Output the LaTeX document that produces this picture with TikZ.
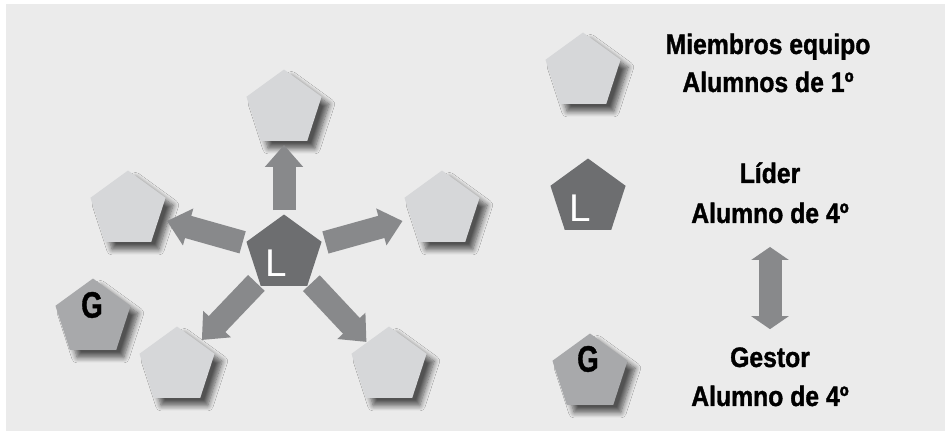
\documentclass[tikz,border=0pt]{standalone}
\usepackage{fontspec}
\setmainfont{Liberation Sans}
\newfontfamily\narrowfont[FakeStretch=0.75, BoldFeatures={FakeBold=1}]{Liberation Sans}
\newfontfamily\labelfont[FakeStretch=0.88, BoldFeatures={FakeBold=1.2}]{Liberation Sans}
\usepackage{tikz}
\usetikzlibrary{calc,shapes.geometric,arrows.meta,shadows.blur}
\definecolor{panel}{HTML}{EBEBEB}
\definecolor{member}{HTML}{D6D7D9}
\definecolor{leader}{HTML}{6D6E70}
\definecolor{manager}{HTML}{A8A9AB}
\definecolor{flow}{HTML}{88898B}
\tikzset{
  penta/.style={regular polygon, regular polygon sides=5, minimum size=1.58cm, inner sep=0pt},
  soft/.style={blur shadow={shadow xshift=0.15cm, shadow yshift=-0.15cm,
      shadow blur radius=0.11cm, shadow blur steps=8, shadow opacity=65}},
  memb/.style={penta, fill=member, soft},
  lead/.style={penta, fill=leader},
  mgr/.style={penta, fill=manager, soft},
  blk/.style={draw=flow, line width=0.46cm, -{Triangle[width=0.74cm,length=0.44cm]}},
  swap/.style={draw=flow, line width=0.46cm,
      {Triangle[width=0.74cm,length=0.26cm]}-{Triangle[width=0.74cm,length=0.26cm]}},
  ltrL/.style={text=white, font=\fontsize{22}{22}\selectfont},
  ltrG/.style={text=black, font=\narrowfont\bfseries\fontsize{21}{21}\selectfont},
  lgd/.style={anchor=base, font=\labelfont\bfseries\fontsize{16}{18}\selectfont}
}

\begin{document}
\begin{tikzpicture}[x=0.02cm, y=-0.02cm]
  \useasboundingbox (0,0) rectangle (945,431);
  \fill[white] (0,0) rectangle (945,431);
  \fill[panel] (6,4) rectangle (945,431);

  % team around the leader
  \node[lead] (L) at (284,254) {};
  \node[memb] (mT) at (284,109) {};
  \node[memb] (mL) at (128,210) {};
  \node[memb] (mR) at (442,210) {};
  \node[memb] (mBL) at (177,366) {};
  \node[memb] (mBR) at (389,366) {};
  \node[mgr] (G) at (93,318) {};
  \node[ltrL] (tL) at ($(L)+(-8,9)$) {L};
  \node[ltrG] (tG) at ($(G)+(-1,-13)$) {G};

  \draw[blk, shorten <=0.88cm, shorten >=0.72cm] (L.center) -- (mT.center);
  \draw[blk, shorten <=0.86cm, shorten >=0.81cm] (L.center) -- (mL.center);
  \draw[blk, shorten <=0.86cm, shorten >=0.82cm] (L.center) -- (mR.center);
  \draw[blk, shorten <=0.80cm, shorten >=0.72cm] (L.center) -- (mBL.center);
  \draw[blk, shorten <=0.80cm, shorten >=0.66cm] (L.center) -- (mBR.center);

  % legend
  \node[memb] (kM) at (583,72) {};
  \node[lead] (kL) at (588,198) {};
  \node[mgr] (kG) at (590,373) {};
  \node[ltrL] (kLt) at ($(kL)+(-8,10)$) {L};
  \node[ltrG] (kGt) at ($(kG)+(-2,-14)$) {G};

  \node[lgd] (m1) at (768,54) {Miembros equipo};
  \node[lgd] (m2) at (768,92) {Alumnos de 1º};
  \node[lgd] (l1) at (770,183) {Líder};
  \node[lgd] (l2) at (770,223) {Alumno de 4º};
  \node[lgd] (g1) at (770,367) {Gestor};
  \node[lgd] (g2) at (770,406) {Alumno de 4º};

  \draw[swap, shorten <=0.35cm, shorten >=0.24cm] (l2) -- (g1);
\end{tikzpicture}
\end{document}
